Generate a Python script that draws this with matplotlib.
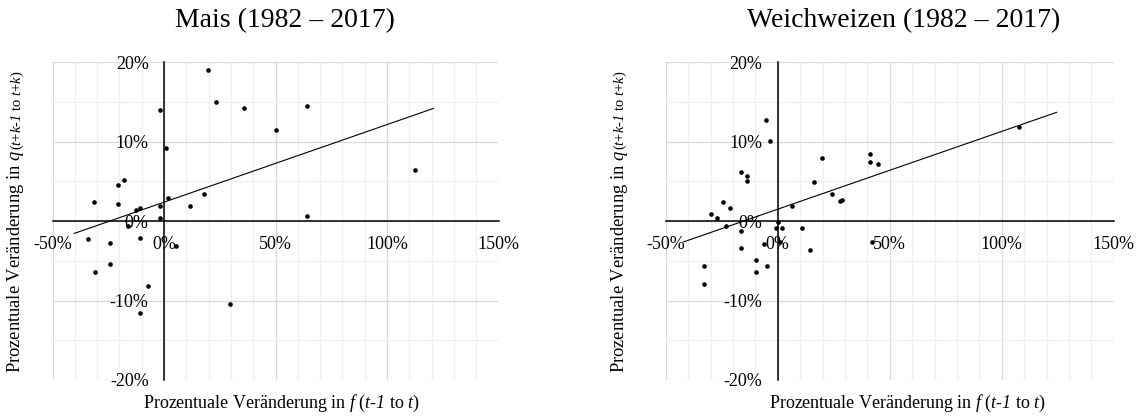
import matplotlib
matplotlib.use("Agg")
import matplotlib.pyplot as plt
from matplotlib.ticker import MultipleLocator, PercentFormatter

plt.rcParams["font.family"] = "Liberation Serif"
plt.rcParams["mathtext.fontset"] = "custom"
plt.rcParams["mathtext.rm"] = "Liberation Serif"
plt.rcParams["mathtext.it"] = "Liberation Serif:italic"
plt.rcParams["mathtext.cal"] = "Liberation Serif:italic"  # fuer kursive Ziffern
plt.rcParams["axes.unicode_minus"] = False

# Daten (Prozent)
mais_f = [19.9, 23.3, -1.6, 35.8, 64.3, 50.0, 0.9, -17.9, -20.5, -31.2,
          -20.5, 1.9, 18.1, 11.6, -1.8, -12.4, -10.6, -1.8, 64.3, -16.0,
          -33.9, -24.2, -10.6, 5.4, -24.0, -31.0, -7.2, 29.6, -10.7, 112.7]
mais_q = [19.0, 15.0, 14.0, 14.2, 14.5, 11.5, 9.2, 5.2, 4.5, 2.4,
          2.2, 2.9, 3.4, 1.9, 1.9, 1.4, 1.7, 0.4, 0.7, -0.6,
          -2.3, -2.8, -2.1, -3.1, -5.4, -6.4, -8.2, -10.4, -11.6, 6.4]
mais_trend_f = [-40.3, 120.9]
mais_trend_q = [-1.55, 14.2]

weizen_f = [-5.1, -3.3, -16.6, -13.9, -13.9, -24.6, -21.1, -30.0, -27.3, -22.9,
            -16.6, -16.6, -32.7, -32.7, -9.5, -9.5, -5.0, -5.9, 0.3, -0.6,
            2.1, 1.2, 6.5, 11.0, 14.6, 16.4, 19.9, 24.4, 27.9, 28.5,
            41.3, 41.3, 44.9, 42.2, 107.7]
weizen_q = [12.7, 10.1, 6.2, 5.7, 5.0, 2.4, 1.7, 0.9, 0.4, -0.6,
            -1.3, -3.4, -5.6, -7.9, -4.9, -6.4, -5.6, -2.9, -0.1, -0.8,
            -0.8, -2.6, 1.9, -0.8, -3.6, 4.9, 8.0, 3.4, 2.5, 2.7,
            8.5, 7.5, 7.2, -2.6, 11.8]
weizen_trend_f = [-41.9, 124.5]
weizen_trend_q = [-2.6, 13.7]

titel = ["Mais (1982 – 2017)", "Weichweizen (1982 – 2017)"]
xlabel = r"Prozentuale Veränderung in $\mathit{f}$ ($\mathit{t}$-$\mathcal{1}$ to $\mathit{t}$)"
ylabel_1 = r"Prozentuale Veränderung in $\mathit{q}$ "
ylabel_2 = r"($\mathit{t}$+$\mathit{k}$-$\mathcal{1}$ to $\mathit{t}$+$\mathit{k}$)"

W, H = 1139, 417
fig = plt.figure(figsize=(W / 100, H / 100), dpi=100)

ax1 = fig.add_axes([52.5 / W, 1 - 380 / H, 446 / W, 317.7 / H])
ax2 = fig.add_axes([665.7 / W, 1 - 380 / H, 448 / W, 317.7 / H])

datos = [(ax1, mais_f, mais_q, mais_trend_f, mais_trend_q),
         (ax2, weizen_f, weizen_q, weizen_trend_f, weizen_trend_q)]

for ax, fx, qy, tx, ty in datos:
    ax.set_xlim(-50, 150)
    ax.set_ylim(-20, 20)
    ax.xaxis.set_major_locator(MultipleLocator(50))
    ax.xaxis.set_minor_locator(MultipleLocator(10))
    ax.yaxis.set_major_locator(MultipleLocator(10))
    ax.yaxis.set_minor_locator(MultipleLocator(5))
    ax.xaxis.set_major_formatter(PercentFormatter(decimals=0))
    ax.yaxis.set_major_formatter(PercentFormatter(decimals=0))
    ax.grid(which="major", color="#d9d9d9", linewidth=0.9)
    ax.grid(which="minor", color="#efefef", linewidth=0.9)
    ax.set_axisbelow(True)

    # Achsen kreuzen bei 0 (wie in Excel)
    ax.spines["left"].set_position(("data", 0))
    ax.spines["bottom"].set_position(("data", 0))
    ax.spines["top"].set_visible(False)
    ax.spines["right"].set_visible(False)
    for s in ["left", "bottom"]:
        ax.spines[s].set_linewidth(1.1)
    ax.tick_params(which="both", length=0)
    ax.tick_params(axis="x", pad=11, labelsize=13)
    ax.tick_params(axis="y", pad=11, labelsize=13)

    ax.plot(tx, ty, color="black", linewidth=0.8, zorder=3)
    ax.scatter(fx, qy, s=11, color="black", zorder=4, linewidths=0)

# Titel und Achsenbeschriftungen
fig.text(285 / W, 1 - 21 / H, titel[0], ha="center", va="center", fontsize=20)
fig.text(904 / W, 1 - 21 / H, titel[1], ha="center", va="center", fontsize=20)
fig.text(282 / W, 1 - 403 / H, xlabel, ha="center", va="center", fontsize=13)
fig.text(908 / W, 1 - 403 / H, xlabel, ha="center", va="center", fontsize=13)

fig.canvas.draw()
renderer = fig.canvas.get_renderer()
for xb in [20.5, 624]:
    t1 = fig.text(xb / W, 1 - 373 / H, ylabel_1, rotation=90, rotation_mode="anchor",
                  ha="left", va="baseline", fontsize=13.3)
    bb = t1.get_window_extent(renderer)
    fig.text(xb / W, bb.y1 / H, ylabel_2, rotation=90, rotation_mode="anchor",
             ha="left", va="baseline", fontsize=10.5)

plt.savefig("out.png", dpi=100)
